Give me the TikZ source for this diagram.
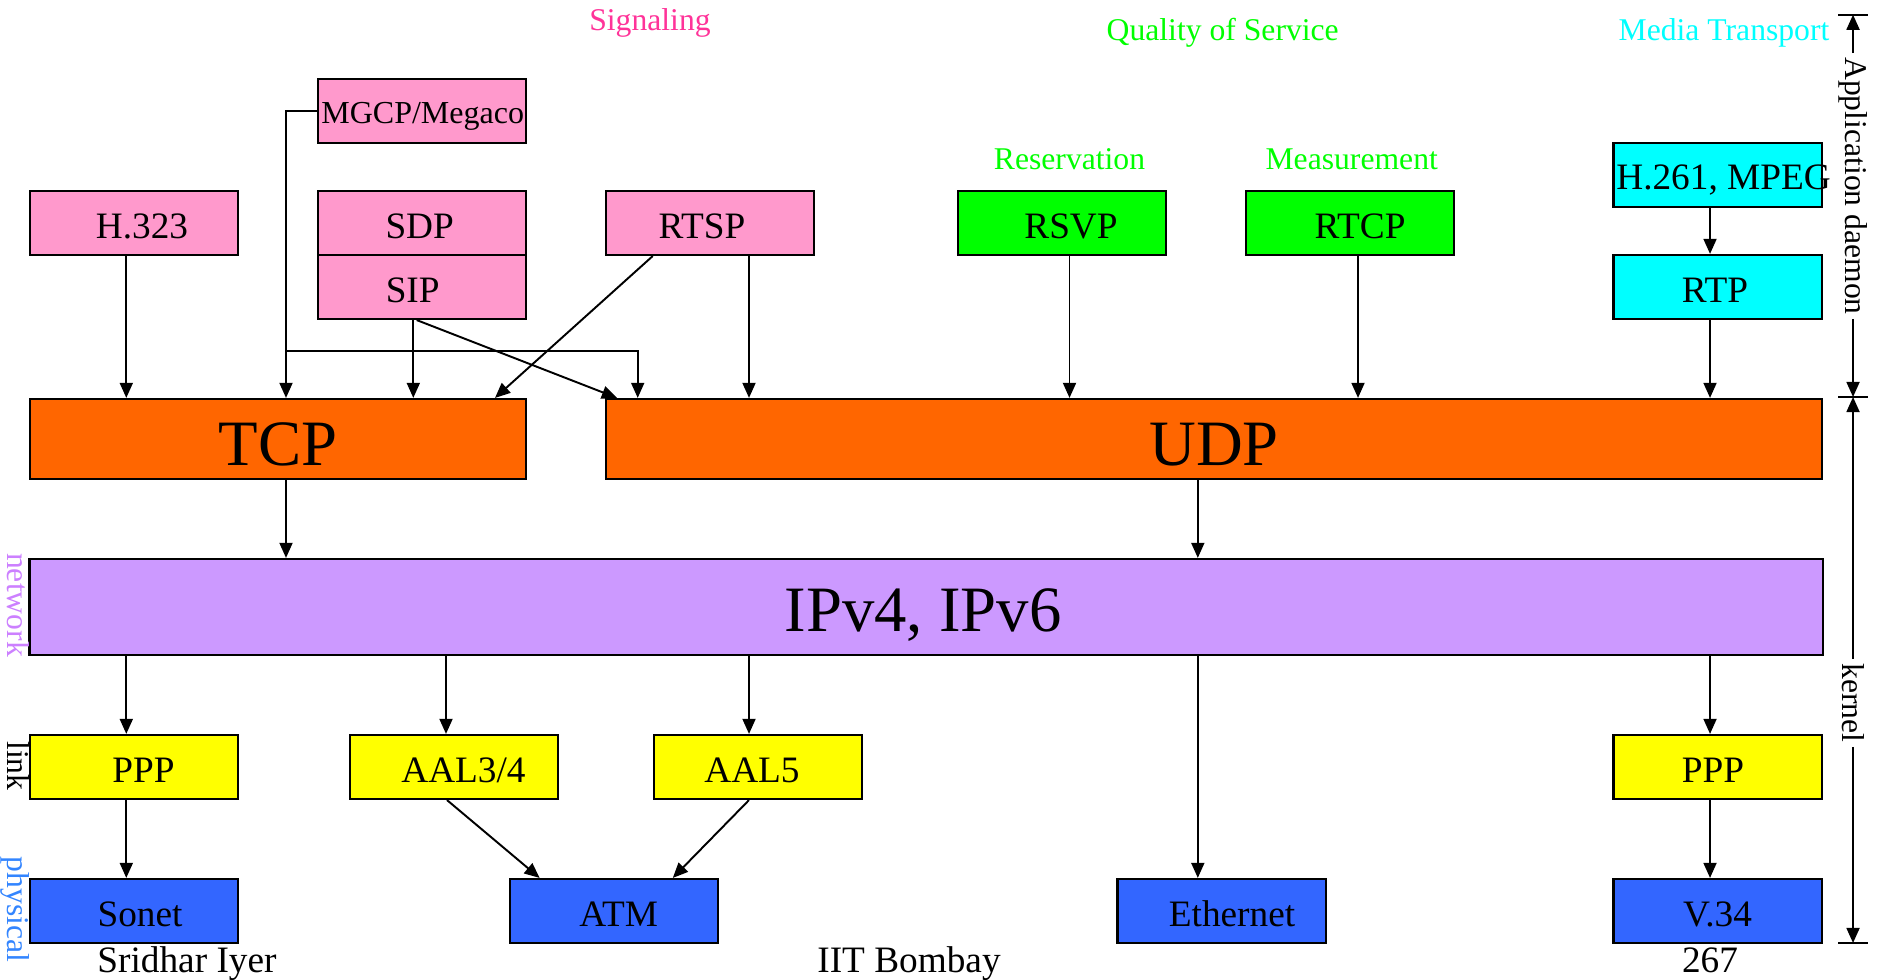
\documentclass[tikz,border=0pt]{standalone}
\usepackage{fontspec}
\setmainfont{Liberation Serif}
\usetikzlibrary{arrows.meta,calc}
\definecolor{sigpink}{HTML}{FF99CC}
\definecolor{sigtext}{HTML}{FF3399}
\definecolor{qosgreen}{HTML}{00FF00}
\definecolor{mediacyan}{HTML}{00FFFF}
\definecolor{transorange}{HTML}{FF6600}
\definecolor{netpurple}{HTML}{CC99FF}
\definecolor{nettext}{HTML}{CC80FF}
\definecolor{linkyellow}{HTML}{FFFF00}
\definecolor{phyblue}{HTML}{3366FF}
\definecolor{phytext}{HTML}{3385FF}
\tikzset{
  proto/.style={rectangle, draw=black, line width=0.6pt, fill=#1, inner sep=0pt,
                minimum width=2.08cm, minimum height=0.64cm, text height=0.3cm, text depth=0pt,
                font=\fontsize{10.6}{12}\selectfont},
  bigbar/.style={rectangle, draw=black, line width=0.6pt, fill=#1, inner sep=0pt, text depth=0pt,
                 font=\fontsize{18.4}{20}\selectfont},
  tx/.style={execute at begin node={\hspace*{#1}}},
  grouplab/.style={text=#1, anchor=base, inner sep=0pt, font=\fontsize{9}{10}\selectfont},
  sidelab/.style={text=#1, rotate=-90, anchor=base, inner sep=0pt, font=\fontsize{9}{10}\selectfont},
  dimlab/.style={rotate=-90, inner sep=1pt, font=\fontsize{9}{10}\selectfont},
  footlab/.style={anchor=base, inner sep=0pt, font=\fontsize{10.6}{12}\selectfont},
  arr/.style={-{Triangle[length=4.3pt,width=3.7pt]}, line width=0.55pt},
}
\begin{document}
\begin{tikzpicture}[x=0.01cm, y=-0.01cm]
\useasboundingbox (0,0) rectangle (1877,980);
\node[grouplab=sigtext] (lsig) at (650,31) {Signaling};
\node[grouplab=qosgreen] (lqos) at (1222.7,41) {Quality of Service};
\node[grouplab=mediacyan] (lmedia) at (1724,41) {Media Transport};
\node[grouplab=qosgreen] (lres) at (1069.5,169.5) {Reservation};
\node[grouplab=qosgreen] (lmeas) at (1351.7,169.5) {Measurement};
\node[proto=sigpink, tx=0.02cm, text height=0.25cm, font=\fontsize{9.1}{11}\selectfont] (mgcp) at (421.7,111) {MGCP/Megaco};
\node[proto=sigpink, tx=0.16cm] (h323) at (134,223) {H.323};
\node[proto=sigpink, tx=-0.04cm] (sdp) at (421.7,223) {SDP};
\node[proto=sigpink, tx=-0.18cm] (sip) at (421.7,287) {SIP};
\node[proto=sigpink, tx=-0.16cm] (rtsp) at (710,223) {RTSP};
\node[proto=qosgreen, tx=0.18cm] (rsvp) at (1062,223) {RSVP};
\node[proto=qosgreen, tx=0.2cm] (rtcp) at (1350,223) {RTCP};
\node[proto=mediacyan] (h261) at (1717.5,175) {\makebox[0pt]{\hspace{0.12cm}H.261, MPEG}};
\node[proto=mediacyan, tx=-0.05cm] (rtp) at (1717.5,287) {RTP};
\node[bigbar=transorange, minimum width=4.96cm, minimum height=0.8cm, text height=0.52cm] (tcp) at (278,439) {TCP};
\node[bigbar=transorange, minimum width=12.155cm, minimum height=0.8cm, text height=0.52cm] (udp) at (1214.2,439) {UDP};
\node[bigbar=netpurple, minimum width=17.92cm, minimum height=0.96cm, text height=0.494cm, tx=-0.06cm] (ip) at (926,607) {IPv4, IPv6};
\node[proto=linkyellow, tx=0.19cm] (ppp1) at (134,767) {PPP};
\node[proto=linkyellow, tx=0.19cm] (aal34) at (454,767) {AAL3/4};
\node[proto=linkyellow, tx=-0.12cm] (aal5) at (758,767) {AAL5};
\node[proto=linkyellow, tx=-0.09cm] (ppp2) at (1717.5,767) {PPP};
\node[proto=phyblue, tx=0.12cm] (sonet) at (134,911) {Sonet};
\node[proto=phyblue, tx=0.1cm] (atm) at (613.7,911) {ATM};
\node[proto=phyblue, tx=0.21cm] (eth) at (1221.5,911) {Ethernet};
\node[proto=phyblue] (v34) at (1717.5,911) {V.34};
\node[sidelab=nettext] (lnet) at (7.5,605) {network};
\node[sidelab=black] (llink) at (7.5,766) {link};
\node[sidelab=phytext] (lphy) at (7.5,909.5) {physical};
\node[footlab] (fauth) at (187,972) {Sridhar Iyer};
\node[footlab] (finst) at (909,972) {IIT Bombay};
\node[footlab] (fpage) at (1710,972) {267};
\coordinate (apptop) at (1853,14.7);
\coordinate (appbot) at (1853,397);
\coordinate (kerbot) at (1853,943);
\node[dimlab] (lapp) at (1853,186) {Application daemon};
\node[dimlab] (lker) at (1853,703) {kernel};
\draw[line width=0.6pt] ($(apptop)+(-15,0)$) -- ($(apptop)+(15,0)$);
\draw[line width=0.6pt] ($(appbot)+(-15,0)$) -- ($(appbot)+(15,0)$);
\draw[line width=0.6pt] ($(kerbot)+(-15,0)$) -- ($(kerbot)+(15,0)$);
\draw[arr] (lapp.west) -- (apptop);
\draw[arr] (lapp.east) -- (appbot);
\draw[arr] (lker.west) -- (appbot);
\draw[arr] (lker.east) -- (kerbot);
\coordinate (mgcpsplit) at (286,350.7);
\draw[arr] (mgcp.west) -| (tcp.north -| 286,0);
\draw[arr] (mgcpsplit) -| (udp.north -| 637.7,0);
\draw[arr] (h323.south -| 126.3,0) -- (tcp.north -| 126.3,0);
\draw[arr] (sip.south -| 413.3,0) -- (tcp.north -| 413.3,0);
\draw[arr] (sip.south -| 416.7,0) -- (udp.north -| 617,0);
\draw[arr] (rtsp.south -| 652.7,0) -- (tcp.north -| 495,0);
\draw[arr] (rtsp.south -| 749,0) -- (udp.north -| 749,0);
\draw[arr] (rsvp.south -| 1069.5,0) -- (udp.north -| 1069.5,0);
\draw[arr] (rtcp.south -| 1358,0) -- (udp.north -| 1358,0);
\draw[arr] (h261.south -| 1710,0) -- (rtp.north -| 1710,0);
\draw[arr] (rtp.south -| 1710,0) -- (udp.north -| 1710,0);
\draw[arr] (tcp.south -| 286,0) -- (ip.north -| 286,0);
\draw[arr] (udp.south -| 1197.8,0) -- (ip.north -| 1197.8,0);
\draw[arr] (ip.south -| 126.3,0) -- (ppp1.north -| 126.3,0);
\draw[arr] (ip.south -| 446,0) -- (aal34.north -| 446,0);
\draw[arr] (ip.south -| 749,0) -- (aal5.north -| 749,0);
\draw[arr] (ip.south -| 1197.8,0) -- (eth.north -| 1197.8,0);
\draw[arr] (ip.south -| 1710,0) -- (ppp2.north -| 1710,0);
\draw[arr] (ppp1.south -| 126.3,0) -- (sonet.north -| 126.3,0);
\draw[arr] (aal34.south -| 447,0) -- (atm.north -| 539.6,0);
\draw[arr] (aal5.south -| 749,0) -- (atm.north -| 672.8,0);
\draw[arr] (ppp2.south -| 1710,0) -- (v34.north -| 1710,0);
\end{tikzpicture}
\end{document}
